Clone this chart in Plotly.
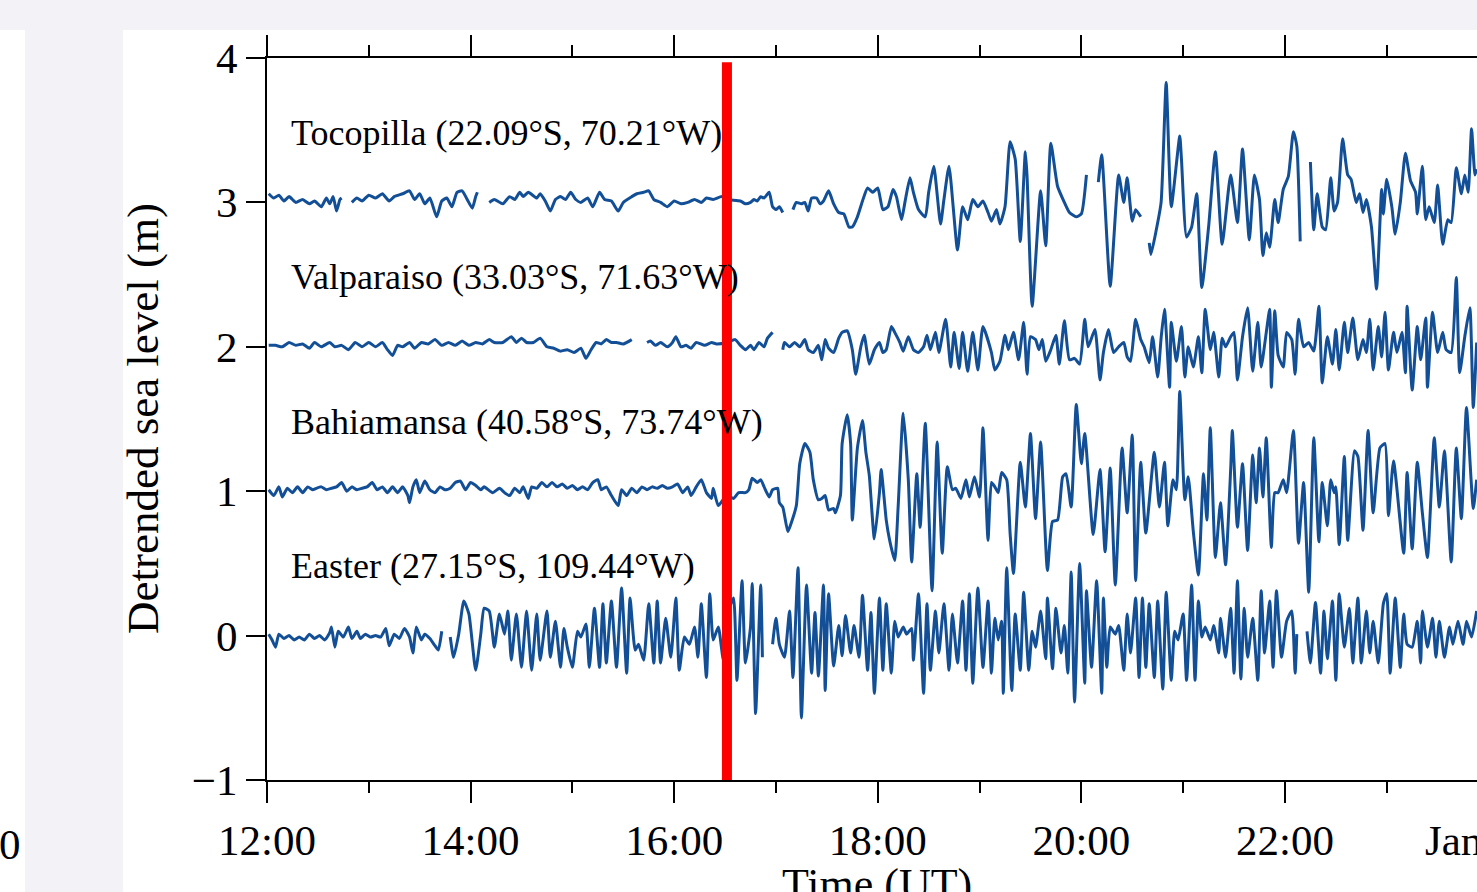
import plotly.graph_objects as go

# Tide-gauge records: (minutes after 12:00 UT, detrended sea level in m).
# None marks a gap in the record.
TOCOPILLA = [
    (1, .06), (4, .03), (7, .05), (10, .01), (13, .04), (17, 0), (21, .02), (25, -.01), (28, .01), (32, -.03),
    (35, .03), (37, -.01), (39, .04), (41, -.06), (43, .02), (44, .03), None,
    (50, 0), (53, .03), (56, .01), (60, .05), (64, .03), (68, .06), (72, .01), (75, .04), (80, .06), (84, .08),
    (87, .02), (90, .06), (93, -.01), (96, .03), (100, -.10), (103, .01), (106, .03), (109, -.03), (112, .07),
    (115, .08), (118, .02), (121, -.04), (123, .04), (124, .07), None,
    (131, 0), (134, .02), (139, -.01), (143, .04), (146, .02), (149, .07), (151, .04), (154, .07), (159, .03),
    (161, .06), (164, .01), (167, -.06), (170, .02), (173, .04), (176, .02), (179, .07), (182, .02), (185, 0),
    (189, .03), (192, -.03), (196, .07), (199, .02), (203, .01), (207, -.06), (210, 0), (215, .04), (218, .06),
    (222, .07), (225, .08), (228, .02), (232, 0), (236, -.03), (240, .01), (244, -.01), (248, 0), (252, .02),
    (256, 0), (259, .03), (263, .02), (268, .04), (271, .02), (279, .01), (282, -.01), (285, 0), (287, .02),
    (289, .01), (291, .04), (293, .03), (296, .07), (298, -.03), (300, -.05), (302, -.03), (304, -.07), None,
    (310, -.05), (312, 0), (315, -.01), (317, 0), (319, -.06), (321, .03), (324, .03), (326, -.01), (328, .01),
    (331, .08), (334, -.01), (337, -.07), (340, -.08), (343, -.17), (345, -.17), (348, -.10), (351, .01),
    (354, .10), (357, .07), (360, .10), (363, -.05), (366, -.03), (369, .09), (371, .04), (374, -.12), (376, 0),
    (379, .17), (381, .07), (384, -.05), (388, -.10), (390, .07), (393, .25), (397, -.15), (399, .02), (402, .25),
    (407, -.33), (410, -.03), (413, -.12), (416, .02), (419, -.03), (422, .01), (425, -.07), (427, -.13),
    (430, -.05), (432, -.15), (435, -.03), (438, .42), (441, .30), (444, -.27), (447, .35), (448, .18),
    (451, -.72), (456, .08), (459, -.30), (462, .41), (466, .11), (470, 0), (473, -.07), (477, -.10), (480, -.08),
    (483, .19), None,
    (490, .14), (492, .33), (497, -.58), (502, .19), (505, 0), (507, .17), (510, -.13), (512, -.05), (515, -.10),
    None,
    (520, -.28), (521, -.36), (524, -.20), (527, 0), (530, .83), (533, -.03), (538, .46), (539, .30), (542, -.24),
    (545, -.17), (548, .06), (551, -.59), (555, -.17), (559, .35), (563, -.29), (568, .19), (572, -.14),
    (575, .37), (579, -.26), (582, .19), (585, .02), (587, -.37), (589, -.21), (591, -.31), (594, .02),
    (596, -.14), (599, .09), (602, .18), (605, .49), (607, .39), (609, -.27), None,
    (615, .28), (617, -.19), (619, .06), (622, -.17), (624, -.19), (627, .17), (629, -.06), (631, 0), (634, .44),
    (637, .19), (639, .16), (642, 0), (644, .06), (646, -.07), (648, .02), (651, -.17), (654, -.60), (657, .09),
    (658, -.08), (660, .16), (663, -.03), (665, -.22), (668, 0), (671, .34), (674, .15), (677, .07), (678, -.08),
    (681, .25), (683, -.12), (685, -.03), (688, -.14), (690, .12), (693, -.29), (696, -.12), (698, -.14),
    (701, .24), (704, .06), (706, .19), (708, .07), (710, .51), (712, .19), (713, .23),
]

VALPARAISO = [
    (1, .01), (5, .01), (9, 0), (13, .03), (17, .01), (21, .02), (25, -.01), (28, .03), (32, 0), (37, .03),
    (40, 0), (44, .01), (48, -.02), (52, .03), (56, 0), (60, .03), (64, 0), (68, .03), (71, -.02), (74, -.06),
    (77, .01), (80, 0), (84, .03), (87, -.01), (91, .03), (95, .02), (99, .05), (103, .01), (107, .03), (111, .01),
    (115, .04), (119, .01), (123, .03), (127, .02), (131, .05), (134, .03), (139, .03), (144, .07), (147, .03),
    (150, .06), (153, .03), (157, .03), (161, .06), (165, 0), (169, -.01), (173, -.03), (177, -.02), (181, -.04),
    (185, -.01), (188, -.08), (191, -.02), (194, .03), (197, .02), (200, .05), (203, .03), (206, .03), (210, .02),
    (215, .05), None,
    (224, .03), (226, .04), (229, .01), (232, .03), (236, 0), (239, .03), (241, .07), (244, 0), (247, .01),
    (250, -.01), (253, .03), (258, .01), (262, .03), (265, .02), (271, .03), (276, .05), (279, .01), (282, -.02),
    (285, .01), (287, -.02), (290, .03), (293, 0), (295, .06), (298, .10), None,
    (304, -.02), (305, .03), (308, 0), (311, .03), (314, 0), (317, .05), (319, -.02), (322, -.04), (325, .01),
    (327, -.09), (329, .05), (331, -.01), (334, -.04), (337, .06), (339, .10), (342, .11), (345, -.02),
    (347, -.19), (350, 0), (352, .08), (355, -.12), (358, -.02), (361, .03), (363, -.04), (365, -.02), (368, .14),
    (370, .10), (373, .03), (375, -.03), (378, .07), (381, -.02), (384, -.04), (387, 0), (389, .08), (391, -.02),
    (394, .10), (396, -.04), (400, .19), (403, -.14), (405, .10), (408, -.15), (410, .10), (413, -.17),
    (416, .10), (419, -.16), (422, .14), (427, -.04), (429, -.16), (432, -.10), (435, .08), (437, -.02),
    (440, .10), (443, -.09), (446, .17), (448, -.19), (450, .07), (453, .05), (455, -.02), (457, .05),
    (459, -.10), (462, -.02), (465, .08), (467, -.12), (470, .18), (473, -.09), (476, -.08), (479, -.12),
    (482, .19), (484, 0), (488, .12), (491, -.23), (493, -.04), (496, .12), (499, -.04), (502, 0), (505, .03),
    (507, -.07), (509, -.10), (512, .19), (515, .05), (517, 0), (520, -.11), (522, .07), (525, -.21), (527, .06),
    (529, .26), (532, -.28), (533, .17), (536, -.10), (539, .14), (541, -.21), (543, 0), (546, -.14), (549, .07),
    (551, -.18), (553, .26), (556, -.02), (558, .10), (561, -.21), (563, .06), (565, 0), (568, .07), (570, .10),
    (572, -.23), (575, .07), (578, .27), (581, -.17), (584, .17), (586, -.14), (589, .10), (591, .26),
    (592, -.28), (594, .25), (596, -.06), (599, -.14), (601, .10), (604, .05), (606, -.19), (608, .19), (611, 0),
    (614, .03), (617, -.03), (620, .28), (622, -.25), (625, .07), (628, -.12), (630, .12), (632, -.16),
    (635, .17), (637, -.04), (640, .20), (643, -.09), (646, .05), (648, -.04), (650, .19), (652, -.16),
    (655, .14), (657, -.07), (659, .24), (661, -.16), (664, .10), (666, -.04), (669, .10), (671, -.18),
    (672, .28), (675, -.30), (678, .14), (680, -.09), (683, .20), (684, -.28), (687, .24), (690, -.04),
    (693, .10), (695, -.02), (698, -.04), (701, .48), (703, -.18), (706, .07), (709, .27), (711, -.42), (713, .03),
]

BAHIAMANSA = [
    (1, .01), (4, -.03), (7, .03), (9, -.04), (12, .02), (15, -.01), (18, .03), (21, -.01), (24, .03), (27, .01),
    (29, .02), (32, .03), (35, .01), (38, .02), (41, .03), (44, .06), (47, 0), (50, .03), (53, .01), (56, .02),
    (59, .03), (62, .06), (65, .01), (68, .03), (71, -.01), (74, .03), (77, -.01), (80, .03), (83, -.03),
    (84, -.08), (86, .03), (88, .08), (90, -.01), (93, .07), (96, .01), (99, -.01), (102, .03), (105, .01),
    (108, .02), (111, .06), (114, .07), (117, .01), (120, .06), (123, .04), (126, .01), (128, .03), (133, -.01),
    (137, .02), (140, -.01), (143, -.03), (146, .02), (149, -.01), (151, .03), (154, -.05), (156, .03),
    (159, .02), (162, .06), (165, .03), (168, .06), (171, .03), (174, .05), (177, .02), (180, .04), (183, .01),
    (186, .03), (189, .01), (192, .06), (195, .08), (197, .01), (200, .03), (203, -.03), (207, -.10), (209, .01),
    (212, -.03), (215, .02), (218, -.01), (221, .03), (224, .01), (227, .03), (230, .02), (233, .04), (236, .02),
    (239, .03), (242, .05), (245, -.01), (248, .03), (250, -.03), (253, .03), (256, .08), (259, -.01),
    (262, -.05), (263, .02), (266, -.10), (271, -.03), (275, -.05), (278, -.01), (282, -.01), (284, .01),
    (286, .09), (289, .06), (291, .08), (293, .03), (296, -.04), (298, .01), (301, .02), (302, -.08),
    (304, -.11), (307, -.28), (309, -.22), (312, -.10), (314, .19), (317, .33), (320, .27), (322, .08),
    (325, -.06), (327, -.05), (329, -.03), (331, -.13), (334, -.12), (335, -.15), (338, -.03), (339, .33),
    (342, .53), (344, .33), (345, -.20), (348, .30), (351, .49), (353, .27), (355, .11), (358, -.33),
    (361, -.01), (362, .15), (365, -.20), (367, -.34), (370, -.48), (372, -.11), (375, .54), (378, .08),
    (380, -.49), (383, .12), (385, -.25), (388, .47), (392, -.69), (395, .34), (398, -.43), (401, .17),
    (404, .01), (406, .02), (409, -.05), (412, .08), (414, -.04), (417, .10), (420, -.04), (422, .44),
    (425, -.34), (427, .06), (429, .03), (431, -.01), (433, .13), (436, .08), (438, -.29), (440, -.57),
    (444, .20), (447, -.11), (450, .40), (453, -.19), (456, .34), (460, -.55), (463, -.21), (466, -.20),
    (469, .10), (471, .12), (474, -.11), (477, .60), (480, .19), (482, .40), (487, -.30), (491, .15),
    (494, -.42), (497, .16), (500, -.65), (504, .30), (507, -.15), (510, .39), (512, -.62), (515, .20),
    (518, -.29), (523, .27), (526, -.11), (529, .20), (531, -.24), (534, .08), (536, .01), (538, .69),
    (541, -.06), (543, .10), (546, -.28), (549, -.58), (552, .12), (554, -.20), (556, .44), (559, -.46),
    (562, -.08), (565, -.51), (568, .15), (569, .42), (572, -.25), (575, .19), (578, -.41), (581, .25),
    (583, -.08), (585, .30), (587, -.04), (589, .37), (592, -.39), (594, -.01), (596, -.01), (599, .08),
    (601, -.01), (605, .42), (608, -.36), (611, .06), (614, -.70), (617, .37), (620, -.35), (622, .06),
    (625, -.24), (627, .08), (629, -.01), (630, .03), (632, -.37), (635, .24), (637, -.34), (641, .28),
    (643, .24), (646, -.27), (649, .42), (652, -.15), (656, .30), (659, .33), (661, -.17), (664, .21),
    (670, -.43), (672, .13), (675, -.40), (678, .20), (681, -.15), (684, -.46), (688, .37), (691, -.11),
    (694, .28), (698, -.49), (701, .30), (704, -.19), (707, .58), (711, -.12), (713, .08),
]

EASTER = [
    (1, .01), (3, -.03), (5, -.08), (7, .01), (10, -.02), (13, 0), (16, -.03), (19, -.01), (22, -.03), (25, .01),
    (28, -.02), (31, 0), (34, -.03), (37, .02), (38, .06), (40, -.08), (42, .03), (45, -.01), (48, .06),
    (50, -.02), (53, .03), (55, -.02), (58, .01), (61, -.01), (64, 0), (67, -.01), (70, .05), (72, -.07),
    (75, .01), (78, -.02), (81, .05), (84, -.01), (86, -.12), (88, .06), (91, -.03), (93, .01), (96, -.02),
    (99, -.07), (101, -.10), (103, .03), None,
    (108, -.01), (110, -.15), (113, .01), (116, .24), (119, .15), (123, -.24), (126, .01), (128, .19),
    (131, .17), (134, -.08), (137, .15), (140, .01), (142, .17), (144, -.17), (147, .15), (150, -.22),
    (153, .17), (156, -.24), (159, .15), (161, -.17), (165, .17), (167, -.15), (170, .10), (173, -.22),
    (175, .05), (177, -.08), (180, -.22), (183, .03), (185, -.01), (188, .08), (190, -.22), (193, .19),
    (196, -.22), (198, .22), (200, -.19), (203, .24), (206, -.22), (209, .33), (212, -.26), (214, .26),
    (217, -.10), (219, -.06), (222, -.17), (225, .22), (228, -.19), (230, .24), (232, -.19), (235, .12),
    (238, -.15), (241, .26), (243, -.24), (246, -.01), (249, -.06), (252, .06), (254, -.15), (256, .22),
    (259, -.29), (261, .29), (263, -.03), (266, .06), (269, -.17), (272, .17), (275, .26), (277, -.31),
    (280, .38), (282, -.19), (285, .06), (286, .36), (288, -.54), (291, .35), (292, -.15), None,
    (298, -.06), (300, .12), (302, -.06), (305, -.15), (308, .17), (310, -.29), (313, .47), (315, -.57),
    (318, .35), (321, -.26), (323, .16), (325, -.28), (328, .35), (329, -.38), (331, .29), (334, -.21),
    (337, .07), (339, -.14), (341, .14), (344, -.12), (346, .07), (349, -.15), (351, .28), (354, -.24),
    (356, .16), (358, -.40), (361, .26), (363, -.24), (365, .22), (368, -.26), (370, .10), (372, -.01),
    (375, .06), (377, .01), (380, .05), (381, -.17), (384, .29), (387, -.40), (389, .22), (391, -.24),
    (394, .17), (396, -.12), (399, .22), (402, -.24), (404, .15), (407, -.19), (410, .24), (412, -.24),
    (414, .29), (416, -.33), (419, .33), (422, -.22), (425, .24), (427, -.26), (429, .12), (431, -.03),
    (433, .10), (434, -.40), (436, .47), (439, -.38), (441, .15), (444, -.24), (446, .30), (449, -.24),
    (451, .03), (453, -.08), (456, .17), (459, -.16), (460, .26), (463, -.23), (465, .19), (468, -.12),
    (470, .07), (472, -.26), (474, .44), (476, -.46), (479, .50), (482, -.33), (483, .31), (486, -.22),
    (489, .38), (492, -.40), (493, .26), (495, -.22), (497, .06), (500, .01), (502, .07), (505, -.24),
    (507, .15), (509, -.12), (512, .26), (514, -.29), (516, .26), (518, -.22), (520, .22), (523, -.29),
    (525, .24), (528, -.37), (530, .30), (533, -.31), (535, .03), (537, -.03), (540, .15), (542, -.31),
    (545, .35), (547, -.31), (549, .24), (551, -.01), (553, .06), (556, -.03), (558, .07), (561, -.12),
    (562, .12), (565, -.15), (568, .19), (570, -.26), (572, .38), (574, -.30), (576, .19), (578, -.15),
    (581, .12), (584, -.31), (586, .31), (588, -.12), (591, .24), (593, -.22), (595, .31), (598, -.15),
    (601, .10), (604, .17), (606, -.26), (607, .01), None,
    (613, .03), (615, -.19), (618, .23), (621, -.26), (623, .17), (625, -.16), (628, .24), (630, -.31),
    (632, .29), (635, -.08), (638, .19), (640, -.19), (643, .26), (645, -.19), (648, .17), (650, -.12),
    (652, .10), (655, -.19), (658, .22), (660, .29), (662, -.26), (665, .26), (668, -.22), (670, .15),
    (672, -.06), (675, -.08), (678, .10), (680, -.19), (681, .17), (684, -.08), (687, .12), (689, -.15),
    (691, .10), (694, -.15), (697, .06), (699, -.06), (702, .10), (705, -.06), (707, .10), (710, -.01),
    (713, .17),
]

STATION_NAMES = [
    "Tocopilla (22.09°S, 70.21°W)",
    "Valparaiso (33.03°S, 71.63°W)",
    "Bahiamansa (40.58°S, 73.74°W)",
    "Easter (27.15°S, 109.44°W)",
]
STATION_DATA = [TOCOPILLA, VALPARAISO, BAHIAMANSA, EASTER]
OFFSETS = [3, 2, 1, 0]           # vertical shift of each record (m)

TICK_MINUTES = [0, 120, 240, 360, 480, 600]
TICK_LABELS = ["12:00", "14:00", "16:00", "18:00", "20:00", "22:00"]
MINOR_MINUTES = [60, 180, 300, 420, 540, 660]
X_END = 713.2                    # right edge of the visible window (min)
ARRIVAL_MIN = 271.1              # marked arrival time, 16:31 UT

LINE_BLUE = "#134f96"
FONT = "Liberation Serif"

# pixel-space helpers for the surrounding page frame
W, H = 1477, 892
ML, MR, MT, MB = 267, 0, 58, 112
PW, PH = W - ML - MR, H - MT - MB


def px_x(p):
    return (p - ML) / PW


def px_y(p):
    return (H - MB - p) / PH


def unpack(series, offset):
    xs, ys = [], []
    for pt in series:
        if pt is None:
            xs.append(None)
            ys.append(None)
        else:
            xs.append(pt[0])
            ys.append(pt[1] + offset)
    return xs, ys


fig = go.Figure()
for data, off in zip(STATION_DATA, OFFSETS):
    xs, ys = unpack(data, off)
    fig.add_trace(go.Scatter(x=xs, y=ys, mode="lines",
                             line=dict(color=LINE_BLUE, width=3, shape="spline", smoothing=0.5),
                             connectgaps=False, hoverinfo="skip"))

annotations = []
for name, off in zip(STATION_NAMES, OFFSETS):
    annotations.append(dict(x=13.0, y=off + 0.48, xref="x", yref="y", text=name,
                            showarrow=False, xanchor="left", yanchor="middle",
                            font=dict(family=FONT, size=36, color="black")))

annotations += [
    dict(x=px_x(143), y=0.5, xref="paper", yref="paper", text="Detrended sea level (m)",
         textangle=-90, showarrow=False, xanchor="center", yanchor="middle",
         font=dict(family=FONT, size=45, color="black")),
    dict(x=px_x(877), y=px_y(884), xref="paper", yref="paper", text="Time (UT)",
         showarrow=False, xanchor="center", yanchor="middle",
         font=dict(family=FONT, size=44, color="black")),
    dict(x=px_x(1423), y=px_y(840), xref="paper", yref="paper", text="Jan 16",
         showarrow=False, xanchor="left", yanchor="middle",
         font=dict(family=FONT, size=43, color="black")),
    dict(x=px_x(-3), y=px_y(845), xref="paper", yref="paper", text="0",
         showarrow=False, xanchor="left", yanchor="middle",
         font=dict(family=FONT, size=43, color="black")),
]

shapes = [
    dict(type="rect", xref="paper", yref="paper", x0=px_x(123), x1=1.0,
         y0=px_y(H), y1=px_y(30), fillcolor="white", line=dict(width=0), layer="below"),
    dict(type="rect", xref="paper", yref="paper", x0=px_x(0), x1=px_x(25),
         y0=px_y(H), y1=px_y(30), fillcolor="white", line=dict(width=0), layer="below"),
    dict(type="line", xref="x", yref="y", x0=ARRIVAL_MIN, x1=ARRIVAL_MIN, y0=-1.0, y1=3.97,
         line=dict(color="#ff0000", width=10), layer="above"),
]

fig.update_layout(
    width=W, height=H, autosize=False,
    margin=dict(l=ML, r=MR, t=MT, b=MB, pad=0),
    paper_bgcolor="#f3f3f7", plot_bgcolor="white",
    showlegend=False,
    font=dict(family=FONT, size=43, color="black"),
    annotations=annotations, shapes=shapes,
    xaxis=dict(range=[0, X_END], tickvals=TICK_MINUTES, ticktext=TICK_LABELS,
               ticks="outside", ticklen=21, tickwidth=2, tickcolor="black",
               showline=True, linecolor="black", linewidth=2, mirror="ticks",
               showgrid=False, zeroline=False,
               tickfont=dict(family=FONT, size=43, color="black"),
               minor=dict(tickvals=MINOR_MINUTES, ticks="outside", ticklen=11,
                          tickwidth=2, tickcolor="black", showgrid=False)),
    yaxis=dict(range=[-1, 4], dtick=1, tick0=0,
               ticks="outside", ticklen=19, tickwidth=2, tickcolor="black",
               showline=True, linecolor="black", linewidth=2, mirror=False,
               showgrid=False, zeroline=False,
               tickfont=dict(family=FONT, size=43, color="black")),
)

fig.write_html("out.html")
